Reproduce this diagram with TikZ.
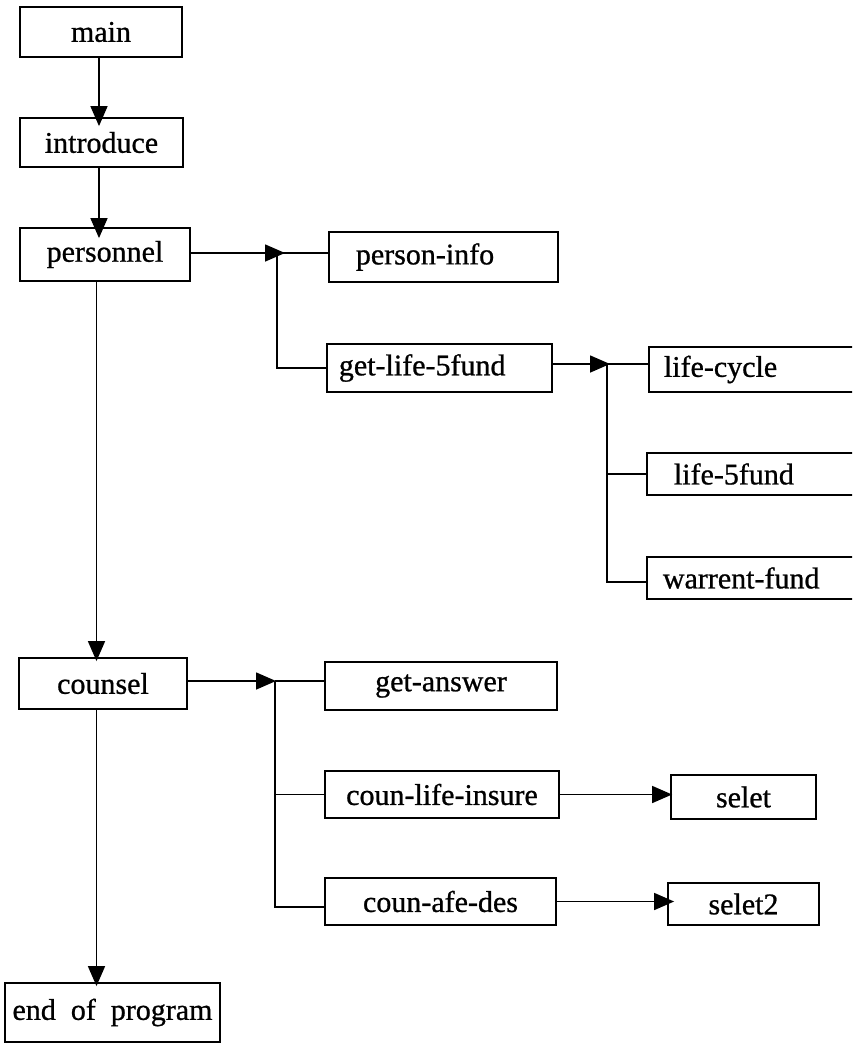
\documentclass[tikz,border=0pt]{standalone}
\usepackage{fontspec}
\setmainfont{Liberation Serif}
\newfontfamily\boxfont[FakeBold=0.8]{Liberation Serif}
\usetikzlibrary{arrows.meta}
\begin{document}
\begin{tikzpicture}[x=1pt,y=-1pt,
  box/.style={draw, line width=1.8pt, inner sep=0pt, font=\boxfont\fontsize{30}{34}\selectfont},
  lbox/.style={box, anchor=west, align=left},
  conn/.style={line width=1.6pt},
  arr/.style={conn, -{Triangle[length=20pt,width=17pt]}}]
\useasboundingbox (0,0) rectangle (852,1044);
\fill[white] (0,0) rectangle (852,1044);
\clip (0,0) rectangle (852,1044);

% left column
\node[box, minimum width=162pt, minimum height=50pt] (main) at (101,32) {main};
\node[box, minimum width=163pt, minimum height=49pt] (intro) at (101.5,142.5) {introduce};
\node[box, minimum width=170pt, minimum height=53pt] (personnel) at (105,254.5) {personnel};
\node[box, minimum width=168pt, minimum height=51pt] (counsel) at (103,683.5) {counsel};
\node[box, minimum width=215pt, minimum height=59pt] (endp) at (112.5,1012.5) {end\ \ of\ \ program};

% middle column
\node[lbox, minimum height=50pt, inner xsep=27pt, text width=175pt] (pinfo) at (328,257) {person-info};
\node[lbox, minimum height=48pt, inner xsep=12pt, text width=201pt] (getlife) at (326,368) {get-life-5fund};
\node[box, minimum width=232pt, minimum height=48pt] (getans) at (441,686) {get-answer};
\node[box, minimum width=234pt, minimum height=47pt] (counlife) at (442,794.5) {coun-life-insure};
\node[box, minimum width=231pt, minimum height=47pt] (counafe) at (440.5,901.5) {coun-afe-des};

% right column
\node[lbox, minimum height=45pt, inner xsep=15pt, text width=230pt] (lifecycle) at (648,369.5) {life-cycle};
\node[lbox, minimum height=42pt, inner xsep=27pt, text width=210pt] (life5) at (646,474) {life-5fund};
\node[lbox, minimum height=42pt, inner xsep=16pt, text width=230pt] (warrent) at (646,578) {warrent-fund};
\node[box, minimum width=145pt, minimum height=44pt] (selet) at (743.5,797) {selet};
\node[box, minimum width=151pt, minimum height=42pt] (selet2) at (743.5,904) {selet2};

% trunk
\coordinate (tx) at (99,0);
\coordinate (ty) at (96.5,0);
\draw[arr, shorten >=-9pt] (main.south -| tx) -- (intro.north -| tx);
\draw[arr, shorten >=-11pt] (intro.south -| tx) -- (personnel.north -| tx);
\draw[arr, shorten >=-4pt] (personnel.south -| ty) -- (counsel.north -| ty);
\draw[arr, shorten >=-4pt] (counsel.south -| ty) -- (endp.north -| ty);

% personnel branch
\coordinate (j1) at (277,253);
\draw[arr] (personnel.east |- j1) -- ([xshift=8pt]j1);
\draw[conn] (j1) -- (j1 -| pinfo.west);
\draw[conn] (j1) |- (getlife.west);

% get-life-5fund branch
\coordinate (j3) at (607,364);
\draw[arr] (getlife.east |- j3) -- ([xshift=3pt]j3);
\draw[conn] (j3) -- (j3 -| lifecycle.west);
\draw[conn] (j3 |- life5.west) -- (life5.west);
\draw[conn] (j3) |- ([yshift=-4pt]warrent.west);

% counsel branch
\coordinate (j2) at (275,681);
\draw[arr] (counsel.east |- j2) -- ([xshift=1pt]j2);
\draw[conn] (j2) -- (j2 -| getans.west);
\draw[conn] (j2 |- counlife.west) -- (counlife.west);
\draw[conn] (j2) |- ([yshift=-5.5pt]counafe.west);
\draw[arr, shorten >=-2pt] (counlife.east) -- (counlife.east -| selet.west);
\draw[arr, shorten >=-7pt] (counafe.east) -- (counafe.east -| selet2.west);
\end{tikzpicture}
\end{document}
